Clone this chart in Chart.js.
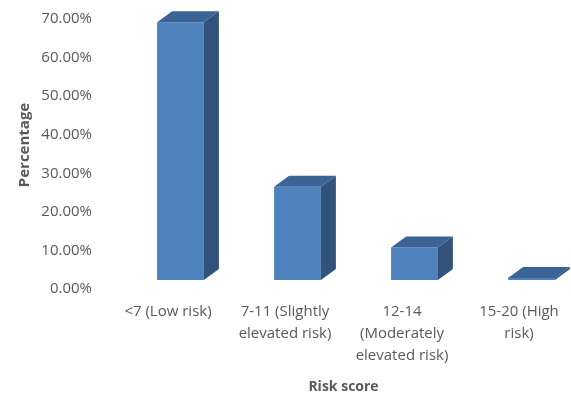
<!DOCTYPE html>
<html>
<head>
<meta charset="utf-8">
<script src="https://cdn.jsdelivr.net/npm/chart.js@4"></script>
<style>
  html, body { margin: 0; padding: 0; background: #fff; overflow: hidden; }
  #wrap { width: 580px; height: 394px; }
</style>
</head>
<body>
<div id="wrap"><canvas id="risk-chart"></canvas></div>
<script>
// Risk score distribution (3D-style column chart)
const categories = [
    '<7 (Low risk)',
    ['7-11 (Slightly', 'elevated risk)'],
    ['12-14', '(Moderately', 'elevated risk)'],
    ['15-20 (High', 'risk)']
];
const percentages = [66.8, 24.2, 8.4, 0.5];
const yTicks = [0, 10, 20, 30, 40, 50, 60, 70];

const textColor = '#595959';
const depth = { dx: 15, dy: 11, shift: 12.5 };

// fake 3D: shift the columns a bit to the right, then add top and side faces
const column3d = {
    id: 'column3d',
    beforeDatasetsDraw(chart) {
        chart.ctx.save();
        chart.ctx.translate(depth.shift, 0);
    },
    afterDatasetsDraw(chart) {
        const ctx = chart.ctx;
        chart.getDatasetMeta(0).data.forEach(bar => {
            const p = bar.getProps(['x', 'y', 'base', 'width'], true);
            const l = p.x - p.width / 2;
            const r = p.x + p.width / 2;
            // top face
            ctx.fillStyle = '#3b6396';
            ctx.beginPath();
            ctx.moveTo(l, p.y);
            ctx.lineTo(r, p.y);
            ctx.lineTo(r + depth.dx, p.y - depth.dy);
            ctx.lineTo(l + depth.dx, p.y - depth.dy);
            ctx.closePath();
            ctx.fill();
            // side face
            ctx.fillStyle = '#31527b';
            ctx.beginPath();
            ctx.moveTo(r, p.y);
            ctx.lineTo(r + depth.dx, p.y - depth.dy);
            ctx.lineTo(r + depth.dx, p.base - depth.dy);
            ctx.lineTo(r, p.base);
            ctx.closePath();
            ctx.fill();
        });
        ctx.restore();
    }
};

const riskChart = new Chart(document.getElementById('risk-chart'), {
    type: 'bar',
    data: {
        labels: categories,
        datasets: [{
            data: percentages,
            backgroundColor: '#4f81bd',
            borderWidth: 0,
            barPercentage: 0.4,
            categoryPercentage: 1
        }]
    },
    plugins: [column3d],
    options: {
        responsive: true,
        maintainAspectRatio: false,
        animation: false,
        layout: { padding: { top: 10, right: 2.5, left: 0, bottom: 0 } },
        plugins: {
            legend: { display: false },
            tooltip: { enabled: false }
        },
        scales: {
            x: {
                grid: { display: false, drawTicks: false },
                border: { display: false },
                ticks: {
                    color: textColor,
                    font: { family: 'Open Sans', size: 15, lineHeight: 22 / 15 },
                    maxRotation: 0,
                    autoSkip: false,
                    padding: 21
                },
                title: {
                    display: true,
                    text: 'Risk score',
                    color: textColor,
                    font: { family: 'Open Sans', size: 14, weight: 'bold' },
                    padding: { top: 0, bottom: -1 }
                },
                afterFit(scale) {
                    scale.height = 114;
                    scale.paddingLeft = 0;
                    scale.paddingRight = 0;
                }
            },
            y: {
                min: 0,
                max: 70,
                grid: { display: false, drawTicks: false },
                border: { display: false },
                afterBuildTicks(scale) { scale.ticks = yTicks.map(v => ({ value: v })); },
                ticks: {
                    color: textColor,
                    font: { family: 'Open Sans', size: 15 },
                    padding: 17.5,
                    labelOffset: 9,
                    callback: v => v.toFixed(2) + '%'
                },
                title: {
                    display: true,
                    text: 'Percentage',
                    color: textColor,
                    font: { family: 'Open Sans', size: 15, weight: 'bold' },
                    padding: { top: 16, bottom: 0 }
                },
                afterFit(scale) {
                    scale.width = 109.5;
                    scale.paddingTop = 0;
                    scale.paddingBottom = 0;
                }
            }
        }
    }
});
</script>
</body>
</html>
